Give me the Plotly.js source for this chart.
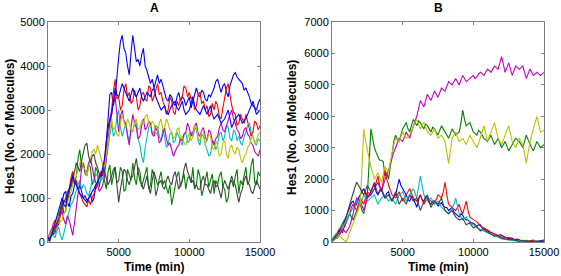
<!DOCTYPE html>
<html><head><meta charset="utf-8">
<script src="https://cdn.plot.ly/plotly-3.0.1.min.js"></script>
<style>html,body{margin:0;padding:0;background:#fff}#c{width:561px;height:276px}</style>
</head><body><div id="c"></div>
<script>
// Samples every 125 min from t = 0 to t = 15000 min
const timeStart = 0;
const timeStep = 125;

// Panel A
const aBlue1 = [50,20,200,330,300,520,600,680,900,1100,1150,900,800,1050,1100,1300,1400,1200,1300,1150,1000,1050,950,980,1100,900,1000,1250,1400,1500,1600,1500,1700,2300,3000,3350,3400,3100,3300,3800,4200,4550,4700,4400,4300,4000,3800,4300,4700,4400,4100,4150,4000,4250,4400,4000,3900,3750,3600,3700,3500,3650,3800,3600,3700,3550,3400,3250,3200,3350,3300,3150,3100,3300,3400,3200,3300,3250,3100,3200,3300,3050,3200,3400,3500,3350,3300,3450,3400,3250,3200,3350,3300,3400,3500,3650,3700,3550,3400,3550,3600,3400,3300,3550,3700,3800,3850,3750,3700,3650,3600,3450,3500,3400,3300,3150,3100,3050,3000,3150,3250];
const aGreen = [50,120,200,150,300,450,600,780,900,650,700,950,1100,1350,1600,1300,1500,1900,2100,1700,1800,1550,1500,1750,1700,1300,1400,1700,1600,1250,1500,1650,1400,1200,1600,1750,1300,1550,1700,1350,1400,1700,1600,1150,1200,1650,1500,1400,1800,1450,1300,1700,1600,1250,1400,1550,1700,1200,1300,1650,1500,1050,1200,1450,1600,1300,1400,1250,1100,1300,850,1050,1300,1500,1600,1250,1400,1550,1200,1450,1500,1350,1700,1200,1300,1650,1500,1050,1200,1450,1600,1250,1400,1550,1100,1400,1300,1500,1600,1250,1200,900,1000,1350,1400,1250,1500,1650,1100,1400,1300,1550,1700,1300,1400,1750,1900,1350,1300,1600,1500];
const aRed = [80,180,250,420,500,350,400,600,700,950,900,1050,1200,1450,1600,1350,1400,1200,1100,1000,900,850,800,950,850,1000,1100,1200,1300,1500,1600,1550,1800,2200,2600,2800,3000,3400,3700,3250,3300,3000,3100,3450,3600,3300,3400,3150,3200,3450,3300,3000,3100,3350,3400,3250,3200,3550,3500,3200,3300,3450,3600,3350,3400,3200,3100,2900,3000,3300,3200,2950,2900,3200,3100,3250,3300,3550,3500,3300,3400,3250,3300,3000,3100,3350,3400,3150,3200,3000,3100,2850,2900,3150,3000,3200,3100,2850,2800,3050,3300,3500,3600,3300,3100,2950,2900,2650,2700,2900,2800,2700,2900,2750,2600,2400,2500,2750,2700,2550,2650];
const aCyan = [50,120,200,150,100,250,350,150,50,200,400,550,700,850,900,1050,1200,1300,1400,1200,1300,1250,1100,1050,1200,1400,1350,1550,1500,1350,1400,1450,1600,1900,2200,2500,2700,2400,2500,2850,3000,2600,2400,2550,2700,2450,2300,2550,2500,2750,2700,2350,2200,1950,1800,2150,2400,2600,2700,2450,2500,2650,2600,2400,2300,2550,2400,2150,2200,2450,2500,2250,2300,2500,2400,2300,2200,2450,2500,2250,2300,2500,2400,2550,2600,2300,2200,2450,2400,2200,2100,1950,2000,2250,2300,2100,2200,2450,2500,2300,2400,2650,2600,2350,2300,2550,2500,2300,2400,2250,2200,2400,2500,2650,2700,2500,2400,2250,2200,2350,2300];
const aMagenta = [100,200,300,180,200,380,500,650,700,500,400,600,500,300,150,450,800,1100,1300,1650,1800,1600,1600,1800,1900,1650,1500,1350,1300,1150,1200,1300,1500,1900,2400,2700,2900,3200,3300,2800,2500,2850,3000,2750,2700,2400,2200,2600,2900,2700,2600,2350,2400,2650,2800,2550,2600,2750,2700,2450,2400,2600,2500,2250,2300,2450,2600,2350,2200,2250,2100,1950,2050,2150,2200,2350,2300,2450,2500,2700,2600,2400,2500,2650,2700,2450,2400,2550,2600,2400,2300,2550,2500,2300,2200,2350,2400,2600,2700,2550,2500,2650,2800,2900,3000,2800,2700,2550,2500,2350,2400,2550,2600,2450,2400,2250,2200,2050,2000,1950,2100];
const aOlive = [50,180,250,300,400,520,600,450,500,650,700,900,1000,1150,1300,1450,1500,1650,1800,1850,1700,1650,1500,1700,1900,2050,2100,2000,2200,2050,1900,1750,1700,2000,2300,2600,2800,2550,2600,2450,2400,2700,2900,2700,2600,2800,2700,2550,2500,2700,2800,2550,2600,2750,2700,2850,2900,2700,2600,2750,2700,2450,2500,2700,2800,2550,2600,2800,2700,2550,2500,2350,2400,2550,2600,2350,2400,2250,2200,2350,2500,2300,2400,2650,2600,2350,2300,2550,2500,2250,2300,2450,2400,2150,2100,2300,2200,1950,2000,2250,2300,2000,1900,2150,2200,2050,2000,2150,2100,1900,1800,1950,2000,2150,2200,2350,2400,2250,2300,2450,2500];
const aGray = [30,80,150,250,350,400,500,700,800,900,1000,1150,1200,1250,1400,1650,1800,1700,1600,1850,2000,2200,2250,1950,1800,1950,2000,1800,1700,1550,1500,1650,1600,1450,1300,1400,1500,1650,1700,1300,900,1200,1400,1650,1600,1400,1300,1450,1500,1750,1900,1600,1400,1300,1200,1350,1500,1250,1100,1400,1600,1450,1300,1350,1400,1250,1200,1400,1500,1350,1300,1500,1600,1400,1200,1300,1400,1650,1800,1600,1500,1350,1400,1250,1300,1200,1200,1400,1500,1300,1300,1200,1100,1300,1400,1250,1300,1150,1000,1250,1400,1300,1200,1350,1500,1350,1300,1100,900,1100,1200,1400,1500,1350,1300,1150,1100,1250,1400,1300,1200];
const aBlue2 = [100,60,150,300,400,550,700,900,1000,850,800,1050,1200,1400,1500,1350,1300,1200,1100,1050,1000,950,900,1000,1050,1150,1200,1300,1350,1450,1500,1700,1900,2300,2600,2750,2900,3200,3500,3350,3300,3450,3600,3500,3400,3300,3200,3350,3500,3350,3300,3400,3500,3300,3200,3300,3400,3350,3300,3450,3500,3300,3200,3100,3000,3050,3100,2950,2900,3000,3100,3150,3200,3050,3000,3100,3200,3000,2900,2950,3000,3150,3300,3100,3000,2950,2900,3000,3100,3000,2900,3000,3100,2900,2800,2850,2900,2800,2700,2750,2800,2900,3000,2800,2600,2700,2800,2850,2900,2800,2700,2750,2800,2900,3000,3100,3200,3050,2900,2950,3000];

// Panel B
const bBlue = [50,120,200,230,300,420,500,650,800,950,1100,1250,1300,1150,1200,1400,1500,1600,1700,1550,1400,1500,1600,1750,1800,1600,1500,1650,1700,1500,1400,1550,1600,1400,1300,1450,1500,1750,2000,1800,1700,1600,1500,1350,1300,1450,1400,1250,1100,1350,1500,1350,1300,1450,1400,1250,1200,1300,1300,1250,1150,1200,1250,1150,1100,1100,1000,1050,1100,950,900,850,800,900,850,750,700,700,650,600,600,550,500,550,550,450,400,400,350,320,300,280,250,230,200,230,220,180,150,130,100,130,120,80,60,90,80,50,30,40,50,30,20,25,30,15,10,30,40,50,60];
const bGreen = [0,80,150,120,200,300,400,480,600,750,900,800,700,850,1000,1150,1200,1000,900,1200,1500,2500,3600,3300,3000,2850,2700,2600,2600,2550,2100,2200,2000,2400,2900,3200,3400,3250,3200,3400,3600,3700,3800,3600,3500,3700,3900,3800,3700,3850,3800,3700,3600,3750,3700,3600,3500,3650,3600,3500,3400,3550,3700,3600,3500,3400,3300,3450,3600,3500,3400,3450,3500,3800,4200,3900,3700,3750,3800,3650,3500,3450,3400,3550,3500,3400,3300,3250,3200,3300,3400,3250,3100,3200,3300,3150,3000,3100,3200,3050,2900,3000,3100,3200,3300,3250,3200,3100,3000,3200,3400,3250,3100,3000,2900,3050,3200,3100,3000,3050,3100];
const bRed = [80,120,150,300,400,350,300,500,700,800,900,1100,1200,1100,1000,1200,1400,1300,1200,1400,1600,1550,1500,1600,1700,1900,2100,1800,1600,1900,2300,2000,1800,1650,1500,1450,1400,1500,1600,1450,1300,1400,1500,1600,1700,1550,1400,1350,1300,1400,1500,1350,1200,1300,1400,1350,1300,1250,1200,1350,1500,1450,1400,1600,1900,1500,1200,1150,1100,1050,1000,1100,1200,1000,900,1100,1300,1000,800,750,700,680,650,580,500,480,450,420,400,350,300,280,250,220,200,190,180,150,120,140,150,100,60,75,90,60,30,40,50,35,20,30,40,50,60,40,20,25,30,20,10];
const bCyan = [100,180,250,220,200,350,500,580,650,780,900,1000,1100,1200,1300,1250,1200,1350,1500,1400,1300,1350,1400,1450,1500,1350,1200,1300,1400,1450,1500,1400,1300,1350,1400,1300,1200,1350,1500,1550,1600,1450,1300,1400,1500,1600,1700,1550,1400,1750,2100,1800,1500,1400,1300,1350,1400,1300,1200,1250,1300,1200,1100,1050,1000,950,900,980,1050,1200,1400,1150,900,800,700,750,800,700,600,580,550,500,450,420,400,380,350,320,300,280,250,220,200,180,150,120,100,90,80,70,60,50,40,35,30,40,50,35,20,25,30,20,10,15,20,30,40,25,10,20,30];
const bMagenta = [80,60,100,150,200,300,400,350,300,400,500,700,900,1200,1400,1350,1300,1150,1000,1200,1400,1450,1500,1600,1700,1800,1900,1750,1600,1800,2000,2150,2300,2500,2700,2850,3000,3150,3300,3250,3200,3350,3500,3400,3300,3500,3700,3850,4000,4250,4500,4400,4300,4500,4700,4600,4500,4650,4800,4700,4600,4750,4900,4850,4800,4950,5100,5050,5000,5100,5200,5100,5000,5150,5300,5200,5100,5150,5200,5250,5300,5200,5250,5350,5400,5350,5300,5400,5500,5450,5400,5500,5600,5550,5500,5700,5900,5650,5400,5550,5700,5500,5300,5450,5600,5550,5500,5550,5600,5400,5200,5350,5500,5400,5300,5350,5400,5350,5300,5350,5400];
const bOlive = [50,80,100,150,200,150,100,50,0,150,300,450,600,750,900,1050,1200,2400,3600,3200,2900,2600,2400,2200,2000,2100,2200,2050,1900,2150,2400,2300,2200,2550,2900,3100,3300,3250,3200,3350,3500,3400,3300,3350,3400,3550,3700,3800,3900,3750,3600,3700,3800,3650,3500,3450,3400,3500,3600,3450,3300,3350,3400,3300,3200,2850,2500,2900,3300,3400,3500,3350,3200,3250,3300,3200,3100,3250,3400,3300,3200,3100,3000,3150,3300,3500,3700,3450,3200,3350,3500,3650,3800,3550,3300,3200,3100,3250,3400,3550,3700,3450,3200,3100,3000,3150,3300,3200,3100,2800,2500,2850,3200,3400,3600,3800,4000,3750,3500,3520,3550];
const bGray = [50,100,150,250,350,480,600,700,800,1000,1200,1400,1600,1750,1900,1800,1700,1600,1500,1650,1800,1700,1600,1750,1900,1700,1500,1600,1700,1550,1400,1450,1500,1400,1300,1450,1600,1400,1200,1300,1400,1300,1200,1350,1500,1400,1300,1350,1400,1200,1000,1150,1300,1400,1500,1300,1100,1200,1300,1250,1200,1300,1400,1200,1000,950,900,950,1000,900,800,750,700,720,750,650,550,580,600,520,450,480,500,420,350,380,400,350,300,280,250,210,180,190,200,160,120,110,100,80,60,70,80,60,40,30,20,35,50,30,10,20,30,20,10,15,20,15,10,15,20];

const xTickVals = [5000, 10000, 15000];
const xTickText = ['5000', '10000', '15000'];

const colors = {blue:'#0000ff', green:'#008000', red:'#ff0000', cyan:'#00bfbf', magenta:'#bf00bf', olive:'#bfbf00', gray:'#404040'};

function tr(y, c, xa, ya) {
  return {y: y, x0: timeStart, dx: timeStep, type: 'scatter', mode: 'lines', xaxis: xa, yaxis: ya,
          line: {color: c, width: 1.1}, hoverinfo: 'skip', showlegend: false};
}
const data = [
  tr(aBlue1, colors.blue, 'x', 'y'),
  tr(aGreen, colors.green, 'x', 'y'),
  tr(aRed, colors.red, 'x', 'y'),
  tr(aCyan, colors.cyan, 'x', 'y'),
  tr(aMagenta, colors.magenta, 'x', 'y'),
  tr(aOlive, colors.olive, 'x', 'y'),
  tr(aGray, colors.gray, 'x', 'y'),
  tr(aBlue2, colors.blue, 'x', 'y'),
  tr(bBlue, colors.blue, 'x2', 'y2'),
  tr(bGreen, colors.green, 'x2', 'y2'),
  tr(bRed, colors.red, 'x2', 'y2'),
  tr(bCyan, colors.cyan, 'x2', 'y2'),
  tr(bMagenta, colors.magenta, 'x2', 'y2'),
  tr(bOlive, colors.olive, 'x2', 'y2'),
  tr(bGray, colors.gray, 'x2', 'y2')
];

const W = 561, H = 276;
const axCommon = {showgrid: false, zeroline: false, showline: true, linecolor: '#808080', linewidth: 1,
  mirror: 'ticks', ticks: 'inside', ticklen: 3, tickcolor: '#808080',
  tickfont: {family: 'Liberation Sans, Arial, sans-serif', size: 11, color: '#000'}};
const yD = [(H - 242) / H, (H - 22) / H];
const layout = {
  width: W, height: H, margin: {l: 0, r: 0, t: 0, b: 0},
  paper_bgcolor: '#fff', plot_bgcolor: '#fff', showlegend: false,
  xaxis: Object.assign({}, axCommon, {domain: [48 / W, 260 / W], range: [0, 15000], tickmode: 'array', tickvals: xTickVals, ticktext: xTickText, anchor: 'y'}),
  yaxis: Object.assign({}, axCommon, {domain: yD, range: [0, 5000], dtick: 1000, tick0: 0, tickformat: 'd', anchor: 'x'}),
  xaxis2: Object.assign({}, axCommon, {domain: [332 / W, 544 / W], range: [0, 15000], tickmode: 'array', tickvals: xTickVals, ticktext: xTickText, anchor: 'y2'}),
  yaxis2: Object.assign({}, axCommon, {domain: yD, range: [0, 7000], dtick: 1000, tick0: 0, tickformat: 'd', anchor: 'x2'}),
  annotations: []
};
const tf = {family: 'Liberation Sans, Arial, sans-serif', size: 12, color: '#000'};
function ann(text, px, py, angle) {
  return {text: '<b>' + text + '</b>', xref: 'paper', yref: 'paper', x: px / W, y: 1 - py / H,
          xanchor: 'center', yanchor: 'middle', showarrow: false, font: tf, textangle: angle || 0};
}
layout.annotations.push(ann('A', 154, 8));
layout.annotations.push(ann('B', 438, 8));
layout.annotations.push(ann('Time (min)', 154, 267));
layout.annotations.push(ann('Time (min)', 438, 267));
layout.annotations.push(ann('Hes1 (No. of Molecules)', 10, 127, -90));
layout.annotations.push(ann('Hes1 (No. of Molecules)', 292, 128, -90));

Plotly.newPlot('c', data, layout, {staticPlot: true, displayModeBar: false});
</script></body></html>
